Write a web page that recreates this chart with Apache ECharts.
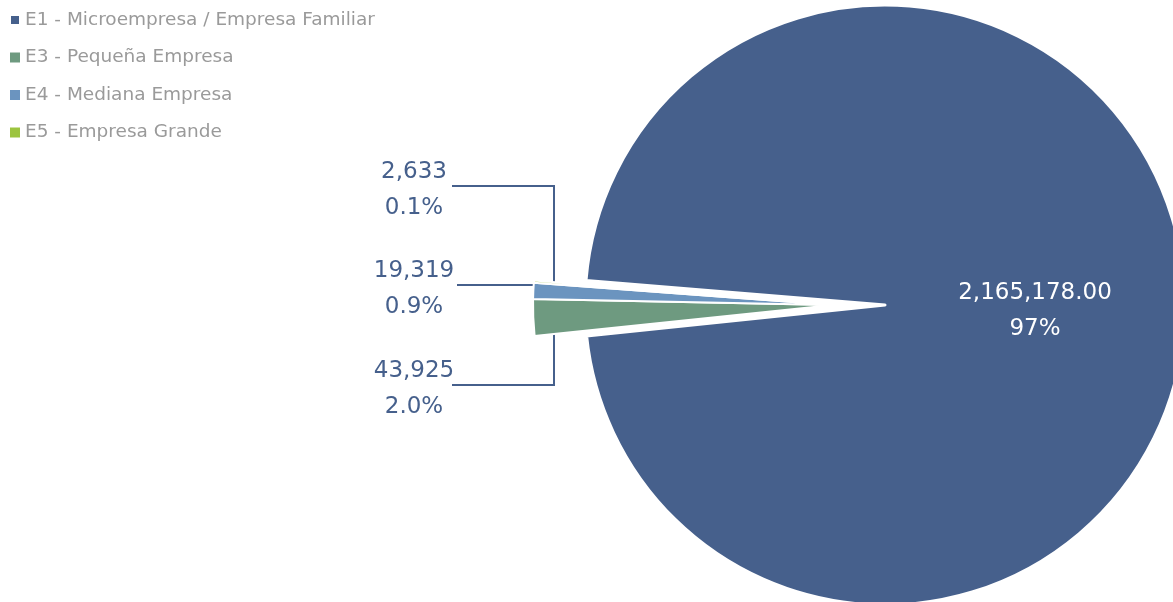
<!DOCTYPE html>
<html>
<head>
<meta charset="utf-8">
<script src="https://cdn.jsdelivr.net/npm/echarts@6/dist/echarts.min.js"></script>
<style>
html,body{margin:0;padding:0;background:#fff;}
#chart{width:1173px;height:602px;}
</style>
</head>
<body>
<div id="chart"></div>
<script>
const categories = ['E1 - Microempresa / Empresa Familiar', 'E3 - Pequeña Empresa', 'E4 - Mediana Empresa', 'E5 - Empresa Grande'];
const values = [2165178, 43925, 19319, 2633];
const colors = ['#46608c', '#6e9a80', '#6b94bf', '#9cc43f'];

const FONT = 'DejaVu Sans';
const CX = 885, CY = 305, R = 300, OFFSET = 52;
const LABEL_COLOR = '#46608c';
const START = 175.3;

const total = values.reduce((a, b) => a + b, 0);
const fmtInt = v => v.toLocaleString('en-US');
const rad = d => d * Math.PI / 180;

// angles bounding the exploded group (degrees from the horizontal, left side)
const e1Span = 360 * values[0] / total;
const topDev = 180 - START;                 // above horizontal
const botDev = (START - e1Span + 360) - 180; // below horizontal

const chart = echarts.init(document.getElementById('chart'));

// vertical offset (from pie centre) of each small slice's leader line
const rowOffset = {3: -119, 2: -20, 1: 80};

const baseLabel = {
  fontFamily: FONT,
  fontSize: 23,
  lineHeight: 36,
  color: LABEL_COLOR,
  align: 'center'
};

const option = {
  animation: false,
  legend: {
    orient: 'vertical',
    left: 9,
    top: 10,
    padding: 0,
    icon: 'rect',
    itemWidth: 10,
    itemHeight: 10,
    itemGap: 17.5,
    textStyle: {color: '#9a9a9a', fontSize: 18.5, lineHeight: 20, fontFamily: FONT},
    data: categories.map((name, i) => ({name: name, itemStyle: {color: colors[i]}}))
  },
  series: [
    {
      // main slice
      type: 'pie',
      center: [CX, CY],
      radius: R,
      startAngle: START,
      clockwise: true,
      avoidLabelOverlap: false,
      emphasis: {disabled: true},
      label: Object.assign({}, baseLabel, {
        show: true,
        position: 'inside',
        color: '#ffffff',
        formatter: p => p.value.toLocaleString('en-US', {minimumFractionDigits: 2, maximumFractionDigits: 2}) + '\n' + Math.round(p.value / total * 100) + '%'
      }),
      labelLine: {show: false},
      labelLayout: function (params) {
        if (params.dataIndex === 0) {
          return {x: CX + 150, y: CY + 6, align: 'center', verticalAlign: 'middle'};
        }
        return {};
      },
      data: categories.map((name, i) => ({
        name: name,
        value: values[i],
        itemStyle: i === 0 ? {color: colors[0], borderColor: '#ffffff', borderWidth: 3} : {color: 'rgba(0,0,0,0)', borderWidth: 0},
        label: {show: i === 0}
      }))
    },
    {
      // exploded small slices
      type: 'pie',
      center: [CX - OFFSET, CY],
      radius: R,
      startAngle: START,
      clockwise: true,
      avoidLabelOverlap: false,
      emphasis: {disabled: true},
      label: Object.assign({}, baseLabel, {
        show: true,
        position: 'outside',
        formatter: p => fmtInt(p.value) + '\n' + (p.value / total * 100).toFixed(1) + '%'
      }),
      labelLine: {show: true, lineStyle: {color: LABEL_COLOR, width: 2}},
      labelLayout: function (params) {
        const i = params.dataIndex;
        if (i === 0) return {};
        const lineY = CY + rowOffset[i];
        const labelX = CX - 471;
        const tipX = CX - OFFSET;
        const edgeX = tipX - R;
        const bracketX = edgeX + 21;
        let pts;
        if (i === 3) {
          const yEdge = CY - (tipX - bracketX) * Math.tan(rad(topDev)) + 1;
          pts = [[bracketX, yEdge], [bracketX, lineY], [CX - 433, lineY]];
        } else if (i === 2) {
          pts = [[edgeX + 1, lineY], [edgeX + 1, lineY], [CX - 428, lineY]];
        } else {
          const yEdge = CY + (tipX - bracketX) * Math.tan(rad(botDev)) - 1;
          pts = [[bracketX, yEdge], [bracketX, lineY], [CX - 433, lineY]];
        }
        return {x: labelX, y: lineY + 4, align: 'center', verticalAlign: 'middle', labelLinePoints: pts};
      },
      data: categories.map((name, i) => ({
        name: name,
        value: values[i],
        itemStyle: i === 0 ? {color: 'rgba(0,0,0,0)', borderWidth: 0} : {color: colors[i], borderColor: '#ffffff', borderWidth: 2},
        label: {show: i !== 0},
        labelLine: {show: i !== 0}
      }))
    }
  ]
};
chart.setOption(option);
</script>
</body>
</html>
